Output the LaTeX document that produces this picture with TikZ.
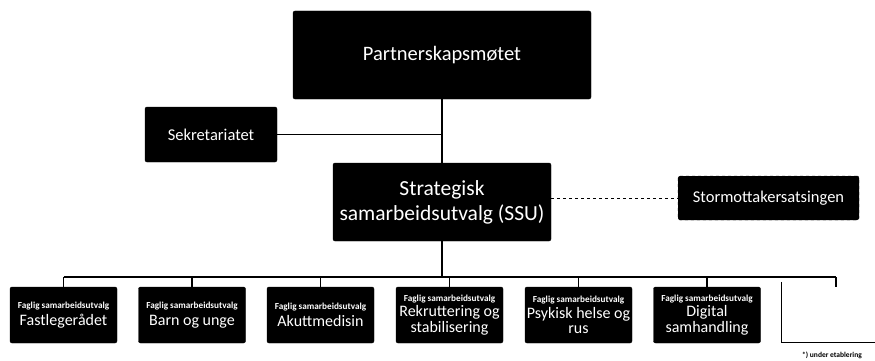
\documentclass[tikz,border=0pt]{standalone}
\usepackage{fontspec}
\setmainfont{Carlito}
\begin{document}
\begin{tikzpicture}[x=1pt,y=-1pt,
  blk/.style={fill=black,draw=black,rounded corners=2pt,text=white,align=center,inner sep=0pt},
  conn/.style={line width=1.1pt,draw=black},
  fsbox/.style={blk,minimum width=107pt,minimum height=56pt,font=\fontsize{16}{15.5}\selectfont}]
\newcommand\fsu{{\fontsize{9.2}{10}\selectfont\bfseries Faglig samarbeidsutvalg}}
\useasboundingbox (0,0) rectangle (875,361);
\node[blk,minimum width=298pt,minimum height=88pt,font=\fontsize{20.5}{22}\selectfont] (P) at (442,55) {Partnerskapsmøtet};
\node[blk,minimum width=132pt,minimum height=55pt,font=\fontsize{16.5}{18}\selectfont] (Sek) at (211,134.5) {Sekretariatet};
\node[blk,minimum width=218pt,minimum height=78pt,font=\fontsize{21.5}{25}\selectfont] (SSU) at (442,202) {Strategisk\\samarbeidsutvalg (SSU)};
\node[blk,dashed,rounded corners=2pt,minimum width=181pt,minimum height=44pt,font=\fontsize{16.5}{18}\selectfont] (Stor) at (768.5,198) {Stormottakersatsingen};
\coordinate (bus) at (0,277);
\coordinate (E) at (875,0);
\node[fsbox] (B1) at (63.5,315) {\fsu\\[2pt]Fastlegerådet};
\node[fsbox] (B2) at (192,315) {\fsu\\[2pt]Barn og unge};
\node[fsbox] (B3) at (320.5,315) {\fsu\\[2pt]Akuttmedisin};
\node[fsbox] (B4) at (449.5,315) {\fsu\\[0pt]Rekruttering og\\stabilisering};
\node[fsbox] (B5) at (578.5,315) {\fsu\\[0pt]Psykisk helse og\\rus};
\node[fsbox] (B6) at (707,315) {\fsu\\[0pt]Digital\\samhandling};
\node[minimum width=108pt,minimum height=55pt,inner sep=0pt] (B7) at (836,314.5) {};
\draw[conn] ([yshift=5pt]B7.north west) -- (B7.south west) -- (B7.south west -| E);
\node[font=\fontsize{7.5}{8}\selectfont\bfseries] (note) at (832,355) {*) under etablering};
% connectors
\draw[conn] (P.south) -- (SSU.north);
\draw[conn] (Sek.east) -- (Sek.east -| P.south);
\draw[conn,dashed,line width=0.7pt] (SSU.east |- Stor.west) -- (Stor.west);
\draw[conn] (SSU.south) -- (SSU.south |- bus);
\draw[conn] (B1.north |- bus) -- (B7.north |- bus);
\foreach \b in {B1,B2,B3,B4,B5,B6,B7} {\draw[conn] (\b.north |- bus) -- (\b.north);}
\end{tikzpicture}
\end{document}
